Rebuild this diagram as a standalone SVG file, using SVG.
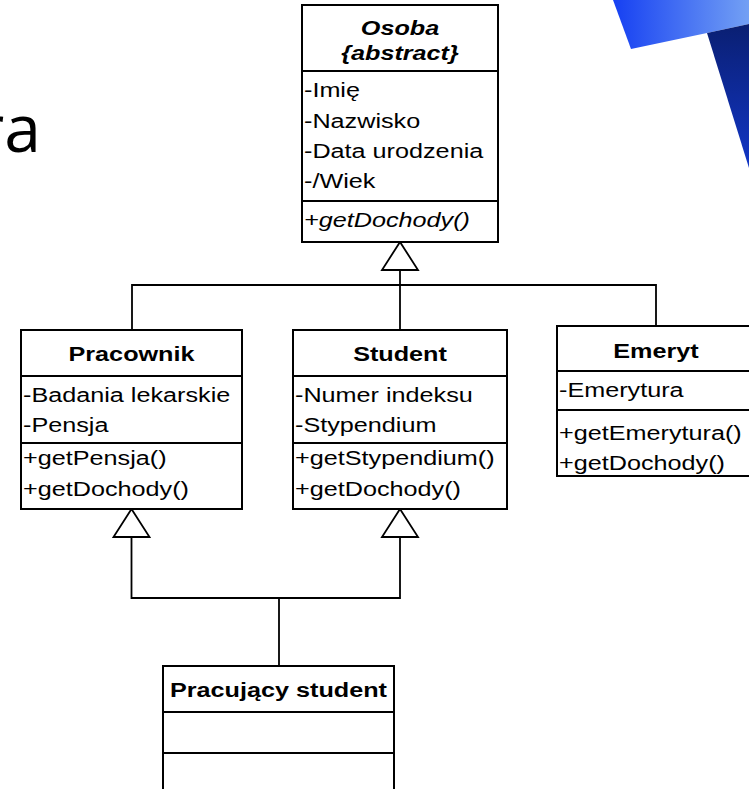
<svg xmlns="http://www.w3.org/2000/svg" width="749" height="789" viewBox="0 0 749 789">
<defs>
<linearGradient id="gLight" x1="0" y1="0" x2="1" y2="0">
<stop offset="0" stop-color="#1640f2"/>
<stop offset="1" stop-color="#73a0f4"/>
</linearGradient>
<linearGradient id="gDark" x1="0" y1="0" x2="0" y2="1">
<stop offset="0" stop-color="#0a1f72"/>
<stop offset="1" stop-color="#1236c6"/>
</linearGradient>
<style>
.box { fill: #fff; stroke: #000; stroke-width: 2; }
.sep { stroke: #000; stroke-width: 2; fill: none; }
.con { stroke: #000; stroke-width: 1.8; fill: none; }
.tri { fill: #fff; stroke: #000; stroke-width: 1.8; }
.t { font-family: "Liberation Sans", Arial, sans-serif; font-size: 21px; fill: #000; }
.b { font-weight: bold; }
.i { font-style: italic; }
.c { text-anchor: middle; }
.title { font-family: "Open Sans", "Liberation Sans", sans-serif; font-size: 66px; fill: #000; text-anchor: end; }
</style>
</defs>
<rect width="749" height="789" fill="#fff"/>
<polygon points="613,0 749,0 749,24 707,33 631,49" fill="url(#gLight)"/>
<polygon points="707,33 749,24 749,168" fill="url(#gDark)"/>
<text class="title" x="41" y="152">ra</text>

<g id="connectors">
<polygon class="tri" points="400,242 382,270 418,270"/>
<polyline class="con" points="400,270 400,330"/>
<polyline class="con" points="132,330 132,285 656,285 656,326"/>
<polygon class="tri" points="131.5,509 113.5,537 149.5,537"/>
<polygon class="tri" points="400,509 382,537 418,537"/>
<polyline class="con" points="131.5,537 131.5,598 400,598 400,537"/>
<polyline class="con" points="279,598 279,666"/>
</g>

<g id="osoba">
<rect class="box" x="302" y="5" width="196" height="237"/>
<line class="sep" x1="302" y1="71" x2="498" y2="71"/>
<line class="sep" x1="302" y1="201" x2="498" y2="201"/>
<text class="t b i c" transform="translate(400,35) scale(1.2,1)">Osoba</text>
<text class="t b i c" transform="translate(400,60) scale(1.2,1)">{abstract}</text>
<text class="t" transform="translate(304,97) scale(1.2,1)">-Imię</text>
<text class="t" transform="translate(304,128) scale(1.2,1)">-Nazwisko</text>
<text class="t" transform="translate(304,158) scale(1.2,1)">-Data urodzenia</text>
<text class="t" transform="translate(304,188) scale(1.2,1)">-/Wiek</text>
<text class="t i" transform="translate(304,227) scale(1.2,1)">+getDochody()</text>
</g>

<g id="pracownik">
<rect class="box" x="21" y="330" width="221" height="179"/>
<line class="sep" x1="21" y1="376" x2="242" y2="376"/>
<line class="sep" x1="21" y1="443" x2="242" y2="443"/>
<text class="t b c" transform="translate(131.5,361) scale(1.2,1)">Pracownik</text>
<text class="t" transform="translate(23,402) scale(1.2,1)">-Badania lekarskie</text>
<text class="t" transform="translate(23,432) scale(1.2,1)">-Pensja</text>
<text class="t" transform="translate(23,465) scale(1.2,1)">+getPensja()</text>
<text class="t" transform="translate(23,496) scale(1.2,1)">+getDochody()</text>
</g>

<g id="student">
<rect class="box" x="293" y="330" width="214" height="179"/>
<line class="sep" x1="293" y1="376" x2="507" y2="376"/>
<line class="sep" x1="293" y1="443" x2="507" y2="443"/>
<text class="t b c" transform="translate(400,361) scale(1.2,1)">Student</text>
<text class="t" transform="translate(295,402) scale(1.2,1)">-Numer indeksu</text>
<text class="t" transform="translate(295,432) scale(1.2,1)">-Stypendium</text>
<text class="t" transform="translate(295,465) scale(1.2,1)">+getStypendium()</text>
<text class="t" transform="translate(295,496) scale(1.2,1)">+getDochody()</text>
</g>

<g id="emeryt">
<rect class="box" x="557" y="326" width="198" height="150"/>
<line class="sep" x1="557" y1="371" x2="755" y2="371"/>
<line class="sep" x1="557" y1="410" x2="755" y2="410"/>
<text class="t b c" transform="translate(656,358) scale(1.2,1)">Emeryt</text>
<text class="t" transform="translate(559,397) scale(1.2,1)">-Emerytura</text>
<text class="t" transform="translate(559,440) scale(1.2,1)">+getEmerytura()</text>
<text class="t" transform="translate(559,470) scale(1.2,1)">+getDochody()</text>
</g>

<g id="pracujacy-student">
<rect class="box" x="163" y="666" width="231" height="140"/>
<line class="sep" x1="163" y1="712" x2="394" y2="712"/>
<line class="sep" x1="163" y1="753" x2="394" y2="753"/>
<text class="t b c" transform="translate(278.5,697) scale(1.2,1)">Pracujący student</text>
</g>
</svg>
